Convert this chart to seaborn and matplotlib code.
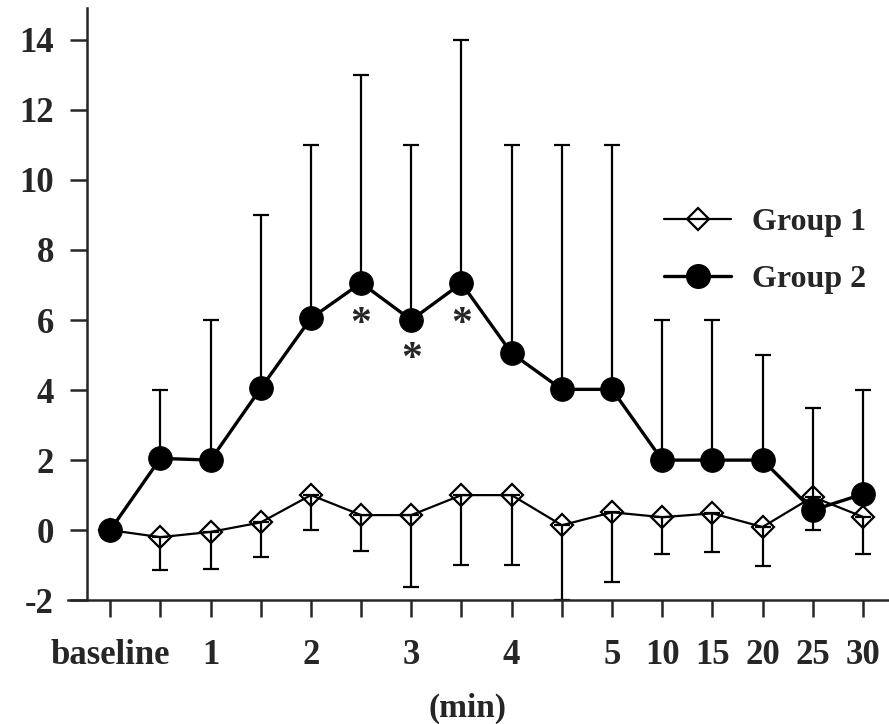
import matplotlib
matplotlib.use("Agg")
import matplotlib.pyplot as plt
import seaborn as sns
import pandas as pd
from matplotlib.lines import Line2D

# time points (x positions are the category index)
x_labels = ["baseline", "", "1", "", "2", "", "3", "", "4", "", "5", "10", "15", "20", "25", "30"]

# Group 1 (open diamonds) mean and lower error bound
group1 = [0, -0.2, -0.05, 0.22, 1.0, 0.43, 0.43, 1.0, 1.0, 0.14, 0.51, 0.37, 0.48, 0.09, 0.95, 0.38]
group1_low = [None, -1.15, -1.1, -0.77, 0.0, -0.6, -1.63, -1.0, -1.0, -2.0, -1.49, -0.69, -0.62, -1.03, 0.0, -0.69]

# Group 2 (filled circles) mean and upper error bound
group2 = [0, 2.05, 2.0, 4.05, 6.05, 7.06, 6.0, 7.05, 5.05, 4.02, 4.02, 2.0, 2.0, 2.0, 0.57, 1.03]
group2_high = [None, 4.0, 6.0, 9.0, 11.0, 13.0, 11.0, 14.0, 11.0, 11.0, 11.0, 6.0, 6.0, 5.0, 3.5, 4.0]

# significance marks
star_x = [5, 6, 7]
star_y = [5.85, 4.85, 5.85]

sns.set_style("ticks")
plt.rcParams["font.family"] = ["Liberation Serif", "DejaVu Serif"]
plt.rcParams["font.weight"] = "bold"
plt.rcParams["axes.unicode_minus"] = False

df = pd.DataFrame({
    "t": list(range(len(x_labels))) * 2,
    "value": group1 + group2,
    "group": ["Group 1"] * len(group1) + ["Group 2"] * len(group2),
})

fig = plt.figure(figsize=(8.89, 7.24), dpi=100)
ax = fig.add_axes([0.098, 0.171, 0.902, 0.818])

# error bars (one-sided)
idx = [i for i, v in enumerate(group1_low) if v is not None]
ax.errorbar(idx, [group1[i] for i in idx],
            yerr=[[group1[i] - group1_low[i] for i in idx], [0] * len(idx)],
            fmt="none", ecolor="black", elinewidth=1.6, capsize=6, capthick=1.6, zorder=2)
idx = [i for i, v in enumerate(group2_high) if v is not None]
ax.errorbar(idx, [group2[i] for i in idx],
            yerr=[[0] * len(idx), [group2_high[i] - group2[i] for i in idx]],
            fmt="none", ecolor="black", elinewidth=1.6, capsize=6, capthick=1.6, zorder=2)

sns.lineplot(data=df[df.group == "Group 1"], x="t", y="value", ax=ax, color="black",
             lw=1.6, marker="D", markersize=11, markerfacecolor="none",
             markeredgecolor="black", markeredgewidth=1.6, zorder=3, legend=False)
sns.lineplot(data=df[df.group == "Group 2"], x="t", y="value", ax=ax, color="black",
             lw=2.4, marker="o", markersize=17, markerfacecolor="black",
             markeredgecolor="black", zorder=4, legend=False)

for sx, sy in zip(star_x, star_y):
    ax.text(sx, sy, "*", ha="center", va="center", fontsize=30, fontweight="bold")

ax.set_xlim(-0.46, 15.52)
ax.set_ylim(-2, 14.91)
ax.set_xticks(range(len(x_labels)))
ax.set_xticklabels(x_labels)
ax.set_yticks(range(-2, 15, 2))
ax.tick_params(axis="both", length=12, width=1.8, labelsize=25, direction="out")
ax.tick_params(axis="y", pad=12)
ax.tick_params(axis="x", pad=16)
for lab in ax.get_xticklabels() + ax.get_yticklabels():
    lab.set_fontweight("bold")

sns.despine(ax=ax)
ax.spines["left"].set_linewidth(1.8)
ax.spines["bottom"].set_linewidth(1.8)
ax.spines["bottom"].set_bounds(-0.84, 15.52)

ax.set_xlabel("(min)", fontsize=24, fontweight="bold")
ax.xaxis.set_label_coords(0.474, -0.182)
ax.xaxis.label.set_va("center")
ax.set_ylabel("")

handles = [
    Line2D([], [], color="black", lw=1.6, marker="D", markersize=11,
           markerfacecolor="none", markeredgewidth=1.6),
    Line2D([], [], color="black", lw=2.4, marker="o", markersize=17,
           markerfacecolor="black"),
]
ax.legend(handles, ["Group 1", "Group 2"], loc="center left",
          bbox_to_anchor=(0.70, 0.59), frameon=False, borderpad=0,
          handlelength=2.1, labelspacing=0.85, handletextpad=0.65,
          prop={"weight": "bold", "size": 23})

fig.savefig("out.png", dpi=100)
